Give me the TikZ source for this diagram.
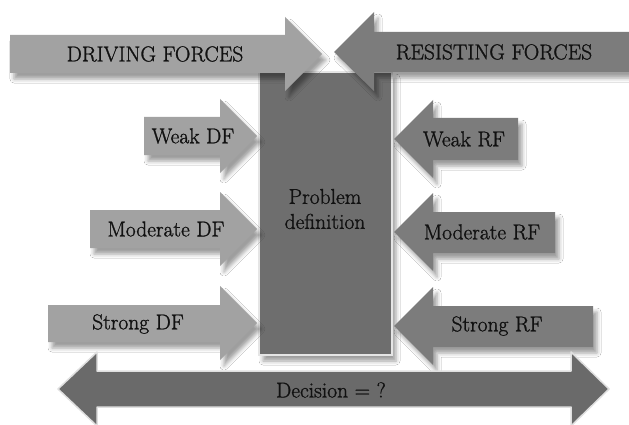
\documentclass[tikz,border=0pt]{standalone}
\usepackage{fontspec}
\newfontfamily\lblfont{Latin Modern Roman}[FakeBold=1.2]
\usetikzlibrary{shadows.blur}
\definecolor{dfgray}{HTML}{A2A2A2}
\definecolor{rfgray}{HTML}{7C7C7C}
\definecolor{boxgray}{HTML}{6E6E6E}
\definecolor{decgray}{HTML}{6A6A6A}
\definecolor{txt}{HTML}{111111}
\begin{document}
\begin{tikzpicture}[x=1pt,y=-1pt,
  softshadow/.style={blur shadow={shadow xshift=4pt, shadow yshift=-6pt,
    shadow blur radius=4pt, shadow opacity=38}},
  dfarrow/.style={fill=dfgray, draw=none, softshadow},
  rfarrow/.style={fill=rfgray, draw=none, softshadow},
  lbl/.style={font=\lblfont\fontsize{21.5}{25}\selectfont, text=txt, inner sep=0pt, align=center}]
\useasboundingbox (0,0) rectangle (629,425);
\fill[white] (0,0) rectangle (629,425);

% central problem box
\path[fill=boxgray, draw=gray!20, line width=1.2pt, softshadow]
  (259,72) rectangle (392,355);
\node[lbl] (problem) at (325,209) {Problem\\definition};

% top pair of opposing arrows
\path[dfarrow] (10,35) -- (285,35) -- (285,17) -- (322,54) -- (285,91)
  -- (285,73) -- (10,73) -- cycle;
\path[rfarrow] (629,32) -- (374,32) -- (374,12) -- (334,52) -- (374,91)
  -- (374,72) -- (629,72) -- cycle;
\node[lbl] (driving) at (155,54) {DRIVING FORCES};
\node[lbl] (resisting) at (494,52) {RESISTING FORCES};

% driving forces, left side
\path[dfarrow] (144,117) -- (220,117) -- (220,99) -- (257,136) -- (220,173)
  -- (220,155) -- (144,155) -- cycle;
\path[dfarrow] (90,210) -- (220,210) -- (220,192) -- (257,229) -- (220,266)
  -- (220,248) -- (90,248) -- cycle;
\path[dfarrow] (48,305) -- (220,305) -- (220,286) -- (257,323) -- (220,360)
  -- (220,342) -- (48,342) -- cycle;
\node[lbl] (weakdf) at (193,136) {Weak DF};
\node[lbl] (moddf) at (166,229) {Moderate DF};
\node[lbl] (strongdf) at (138,324) {Strong DF};

% resisting forces, right side
\path[rfarrow] (518,118) -- (433,118) -- (433,100) -- (394,139) -- (433,178)
  -- (433,160) -- (518,160) -- cycle;
\path[rfarrow] (555,212) -- (433,212) -- (433,193) -- (394,232) -- (433,271)
  -- (433,253) -- (555,253) -- cycle;
\path[rfarrow] (593,306) -- (433,306) -- (433,287) -- (394,326) -- (433,365)
  -- (433,347) -- (593,347) -- cycle;
\node[lbl] (weakrf) at (464,139) {Weak RF};
\node[lbl] (modrf) at (482,232) {Moderate RF};
\node[lbl] (strongrf) at (497,326) {Strong RF};

% decision double arrow
\path[fill=decgray, draw=gray!25, line width=1.5pt, line join=round]
  (58,389) -- (97,352) -- (97,371) -- (571,371) -- (571,352) -- (609,389)
  -- (571,426) -- (571,407) -- (97,407) -- (97,426) -- cycle;
\node[lbl] (decision) at (331,390) {Decision = ?};
\end{tikzpicture}
\end{document}
